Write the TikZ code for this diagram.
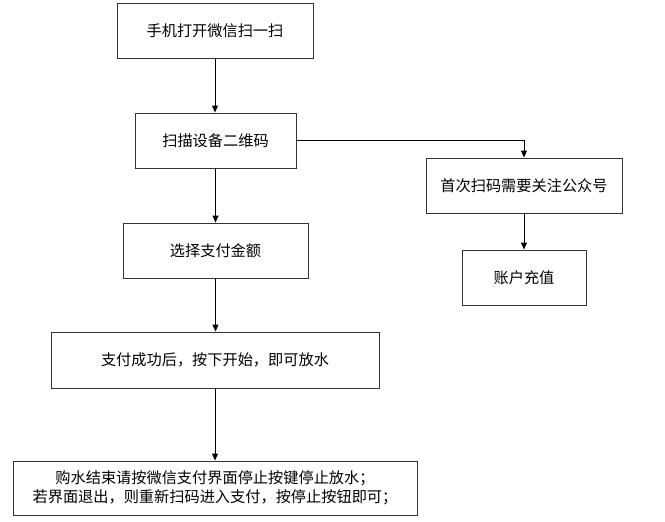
\documentclass[tikz,border=0pt]{standalone}
\usepackage{fontspec}
\newfontfamily\cjk{Noto Sans CJK SC}
\usetikzlibrary{arrows.meta}
\begin{document}
\begin{tikzpicture}[x=1pt,y=-1pt,
  box/.style={draw=black!80,line width=0.9pt,fill=white,inner sep=0pt,font=\cjk\fontsize{15.2}{19}\selectfont,align=center},
  conn/.style={draw=black,line width=0.9pt,-{Triangle[length=7pt,width=6pt]}}]
\useasboundingbox (0,0) rectangle (665,522);
\node[box,minimum width=196pt,minimum height=55pt] (a) at (215,30.5) {手机打开微信扫一扫};
\node[box,minimum width=161pt,minimum height=55pt] (b) at (215.5,140.5) {扫描设备二维码};
\node[box,minimum width=185pt,minimum height=55pt] (c) at (215.5,250.5) {选择支付金额};
\node[box,minimum width=328pt,minimum height=56pt] (d) at (215,360) {支付成功后，按下开始，即可放水};
\node[box,minimum width=404pt,minimum height=54pt] (e) at (215,488) {购水结束请按微信支付界面停止按键停止放水；\\若界面退出，则重新扫码进入支付，按停止按钮即可；};
\node[box,minimum width=196pt,minimum height=55pt] (f) at (524,185.5) {首次扫码需要关注公众号};
\node[box,minimum width=124pt,minimum height=55pt] (g) at (524,277.5) {账户充值};
\draw[conn] (a.south) -- (a.south |- b.north);
\draw[conn] (b.south) -- (b.south |- c.north);
\draw[conn] (c.south) -- (c.south |- d.north);
\draw[conn] (d.south) -- (d.south |- e.north);
\draw[conn] (b.east) -| (f.north);
\draw[conn] (f.south) -- (g.north);
\end{tikzpicture}
\end{document}
